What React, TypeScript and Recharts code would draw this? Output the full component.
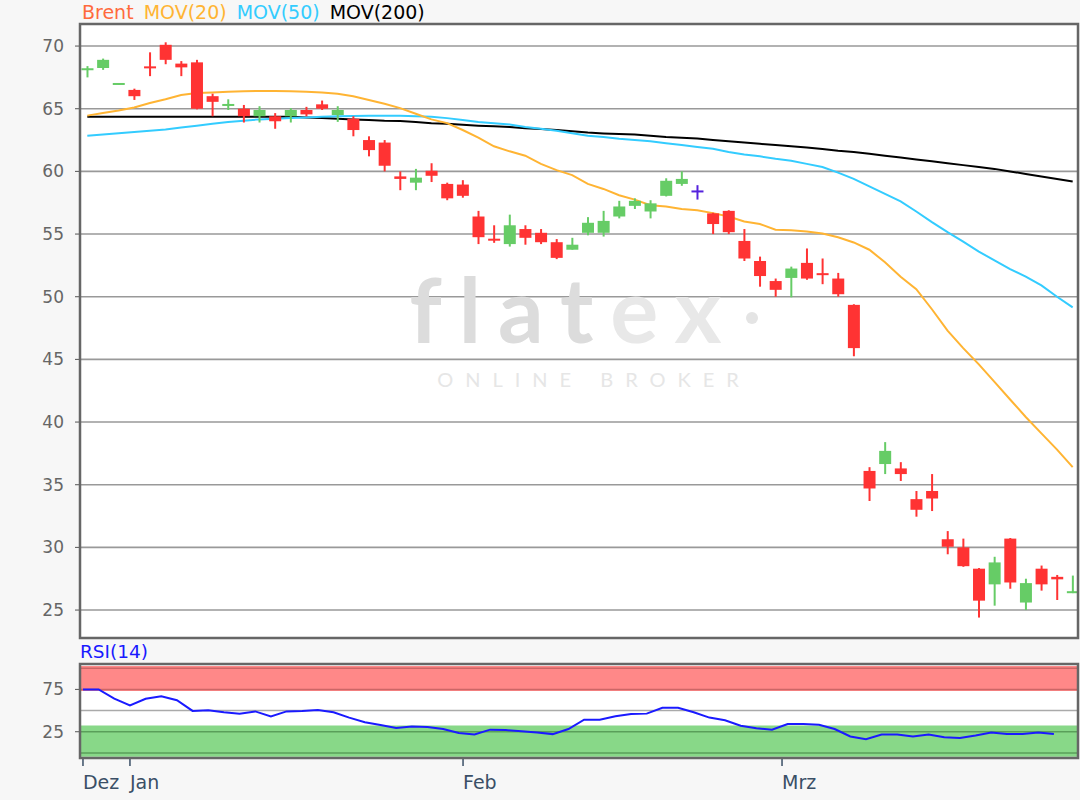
import React from "react";
import {
  ComposedChart,
  Bar,
  Line,
  XAxis,
  YAxis,
  CartesianGrid,
  ReferenceArea,
  ReferenceLine,
  Legend,
  Customized,
} from "recharts";

// daily Brent candles, Dez 2019 - Mrz 2020
const opens = [68.1, 68.25, 66.95, 66.5, 68.35, 70.1, 68.6, 68.7, 66.0, 65.25, 65.0, 64.4, 64.4, 64.4, 64.9, 65.35, 64.5, 64.2, 62.5, 62.3, 59.6, 59.1, 60.05, 59.0, 58.95, 56.4, 54.6, 54.2, 55.4, 55.1, 54.35, 53.75, 55.1, 55.1, 56.4, 57.25, 56.8, 58.05, 59.0, 58.4, 56.65, 56.85, 54.45, 52.85, 51.25, 51.5, 52.7, 51.85, 51.45, 49.35, 36.1, 36.65, 36.3, 33.85, 34.5, 30.65, 30.0, 28.3, 27.05, 30.7, 25.6, 28.3, 27.65, 26.35];
const highs = [68.4, 69.0, 67.05, 66.6, 69.5, 70.3, 68.8, 68.9, 66.2, 65.75, 65.3, 65.2, 64.65, 65.05, 65.15, 65.65, 65.2, 64.4, 62.8, 62.5, 60.0, 60.2, 60.65, 59.1, 59.3, 56.85, 55.7, 56.55, 55.7, 55.4, 54.6, 54.7, 56.35, 56.85, 57.65, 57.85, 57.7, 59.45, 60.0, 58.9, 56.7, 56.9, 55.4, 53.2, 51.45, 52.4, 53.85, 53.05, 51.9, 49.4, 36.4, 38.4, 36.8, 34.5, 35.85, 31.3, 30.7, 28.35, 29.25, 30.75, 27.5, 28.55, 27.8, 27.75];
const lows = [67.5, 68.1, 66.9, 65.7, 67.6, 68.55, 67.6, 64.95, 64.4, 64.9, 63.9, 63.9, 63.4, 63.9, 64.4, 64.9, 63.95, 62.8, 61.2, 60.0, 58.5, 58.5, 59.15, 57.7, 57.9, 54.2, 54.3, 54.0, 54.15, 54.2, 53.0, 53.75, 54.9, 54.8, 56.25, 57.0, 56.25, 58.0, 58.85, 57.75, 55.0, 55.0, 52.85, 50.8, 50.0, 49.95, 51.35, 51.0, 50.0, 45.25, 33.7, 35.85, 35.3, 32.45, 32.9, 29.45, 28.45, 24.4, 25.35, 26.7, 25.0, 26.55, 25.8, 26.35];
const closes = [68.2, 68.9, 67.0, 66.0, 68.25, 68.9, 68.3, 65.0, 65.55, 65.35, 64.4, 64.9, 64.0, 64.9, 64.55, 65.0, 64.9, 63.3, 61.7, 60.45, 59.4, 59.5, 59.65, 57.85, 58.05, 54.75, 54.5, 55.7, 54.7, 54.35, 53.1, 54.15, 55.9, 56.05, 57.2, 57.65, 57.45, 59.25, 59.4, 58.4, 55.8, 55.15, 53.05, 51.65, 50.55, 52.25, 51.45, 51.75, 50.2, 45.9, 34.7, 37.7, 35.85, 33.0, 33.9, 30.05, 28.5, 25.75, 28.8, 27.2, 27.15, 27.05, 27.45, 26.5];

const mov20 = [64.45, 64.65, 64.85, 65.1, 65.45, 65.75, 66.1, 66.25, 66.3, 66.35, 66.4, 66.42, 66.42, 66.4, 66.35, 66.3, 66.2, 66.0, 65.7, 65.4, 65.05, 64.6, 64.15, 63.85, 63.3, 62.7, 62.0, 61.6, 61.25, 60.6, 60.1, 59.7, 59.0, 58.6, 58.1, 57.75, 57.3, 57.2, 57.0, 56.9, 56.67, 56.4, 56.0, 55.8, 55.35, 55.3, 55.2, 55.05, 54.75, 54.33, 53.75, 52.75, 51.6, 50.6, 49.0, 47.3, 45.9, 44.6, 43.2, 41.8, 40.4, 39.1, 37.8, 36.4];
const mov50 = [62.85, 62.95, 63.05, 63.15, 63.25, 63.35, 63.5, 63.65, 63.8, 63.95, 64.05, 64.15, 64.2, 64.25, 64.3, 64.35, 64.4, 64.42, 64.44, 64.44, 64.44, 64.4, 64.35, 64.25, 64.1, 63.95, 63.85, 63.75, 63.55, 63.4, 63.25, 63.05, 62.85, 62.75, 62.6, 62.5, 62.4, 62.25, 62.1, 61.95, 61.8, 61.55, 61.35, 61.2, 61.0, 60.85, 60.6, 60.35, 59.9, 59.4, 58.8, 58.2, 57.6, 56.8, 55.95, 55.15, 54.4, 53.6, 52.9, 52.2, 51.6, 50.9, 50.0, 49.15];
const mov200 = [64.35, 64.35, 64.35, 64.35, 64.35, 64.35, 64.35, 64.35, 64.35, 64.35, 64.35, 64.35, 64.35, 64.35, 64.3, 64.25, 64.2, 64.15, 64.1, 64.05, 64.03, 63.95, 63.85, 63.8, 63.72, 63.65, 63.6, 63.55, 63.45, 63.38, 63.3, 63.2, 63.1, 63.03, 62.98, 62.95, 62.85, 62.75, 62.68, 62.62, 62.5, 62.4, 62.3, 62.2, 62.1, 62.0, 61.9, 61.78, 61.65, 61.55, 61.4, 61.25, 61.1, 60.95, 60.8, 60.65, 60.5, 60.35, 60.2, 60.0, 59.8, 59.6, 59.4, 59.2];

const rsi = [75, 75, 64, 56, 64, 67, 62.3, 49.6, 50.4, 48, 46.4, 49, 43, 49, 49.4, 50.8, 48, 41.7, 36.2, 33, 29.4, 31.3, 30.6, 28.3, 23.5, 21.8, 27.5, 27, 25.5, 24.2, 22.2, 28.2, 39.3, 39.3, 43.2, 46, 46.4, 53.2, 53.2, 48, 41.7, 38.5, 32.1, 29, 27.4, 34.2, 34.2, 33.3, 28.2, 19.4, 16.3, 21.8, 21.8, 19.4, 21.8, 18.6, 17.5, 20.6, 24.2, 22.2, 22.2, 24.2, 22.2];

const priceTicks = [25, 30, 35, 40, 45, 50, 55, 60, 65, 70];
const rsiTicks = [25, 75];
const monthLabels = ["Dez", "Jan", "Feb", "Mrz"];
const monthPositions = [0, 3, 24.27, 44.64];

const legendItems = [
  { label: "Brent", color: "#ff6a3d" },
  { label: "MOV(20)", color: "#ffb433" },
  { label: "MOV(50)", color: "#33ccff" },
  { label: "MOV(200)", color: "#000000" },
];

const FONT = "DejaVu Sans, Verdana, sans-serif";
const UP = "#66cc66";
const DOWN = "#ff3333";
const FLAT = "#5522dd";

const X_DOMAIN: [number, number] = [-0.467, 63.34];
const Y_DOMAIN: [number, number] = [22.77, 71.76];
const RSI_X_DOMAIN: [number, number] = [-0.19, 63.54];
const RSI_Y_DOMAIN: [number, number] = [-6, 105];

const candleData = opens.map((o, i) => ({
  i,
  open: o,
  high: highs[i],
  low: lows[i],
  close: closes[i],
  range: [lows[i], highs[i]],
  mov20: mov20[i],
  mov50: mov50[i],
  mov200: mov200[i],
}));

const rsiData = rsi.map((v, k) => ({ k, rsi: v }));

function Candle(props: any) {
  const { x, y, width, height, payload } = props;
  if (x == null || y == null) return null;
  const { open, close, high, low } = payload;
  const top = Math.min(y, y + height);
  const bottom = Math.max(y, y + height);
  const ppu = (bottom - top) / (high - low);
  const cx = x + width / 2;
  const bTop = top + (high - Math.max(open, close)) * ppu;
  const bBot = top + (high - Math.min(open, close)) * ppu;
  const h = Math.max(bBot - bTop, 2);
  const mid = (bTop + bBot) / 2;
  const color = close > open ? UP : close < open ? DOWN : FLAT;
  return (
    <g>
      <line x1={cx} x2={cx} y1={top} y2={bottom} stroke={color} strokeWidth={2} />
      <rect x={x} y={mid - h / 2} width={width} height={h} fill={color} />
    </g>
  );
}

// background logo
function Watermark() {
  return (
    <g fontFamily="Lato, sans-serif" textAnchor="middle">
      <text x={574} y={343} fontSize={90} fontWeight={700} fill="#dcdcdc" letterSpacing={17}>
        flat<tspan fill="#e8e8e8">ex</tspan>
      </text>
      <text x={594} y={387} fontSize={20} fill="#e6e6e6" letterSpacing={12}>
        ONLINE BROKER
      </text>
      <circle cx={752} cy={318} r={6} fill="#e4e4e4" />
    </g>
  );
}

function HeaderLegend() {
  return (
    <div style={{ fontFamily: FONT, fontSize: 19, lineHeight: "24px", whiteSpace: "nowrap", textAlign: "left" }}>
      {legendItems.map((it) => (
        <span key={it.label} style={{ color: it.color, marginRight: 10 }}>
          {it.label}
        </span>
      ))}
    </div>
  );
}

function RsiLegend() {
  return (
    <div style={{ fontFamily: FONT, fontSize: 18.5, lineHeight: "24px", color: "#1a1aff", textAlign: "left" }}>
      RSI(14)
    </div>
  );
}

function MonthTick(props: any) {
  const { x, y, payload } = props;
  const idx = monthPositions.indexOf(payload.value);
  return (
    <text x={x} y={y + 21} textAnchor="start" fill="#3a4f66" fontSize={19} fontFamily={FONT}>
      {monthLabels[idx]}
    </text>
  );
}

const yTick = { fill: "#666", fontSize: 17, fontFamily: FONT };

export default function App() {
  return (
    <div style={{ position: "absolute", left: 0, top: 0, width: 1080, height: 800, background: "#f7f7f7" }}>
      <div style={{ position: "absolute", left: 0, top: 0 }}>
        <ComposedChart width={1080} height={645} data={candleData} margin={{ top: 24, right: 2, bottom: 7, left: 0 }}>
          <CartesianGrid horizontal vertical={false} stroke="#999999" strokeWidth={1.6} fill="#ffffff" />
          <Customized component={Watermark} />
          <XAxis type="number" dataKey="i" domain={X_DOMAIN} allowDataOverflow hide />
          <YAxis
            type="number"
            domain={Y_DOMAIN}
            ticks={priceTicks}
            allowDataOverflow
            width={80}
            axisLine={false}
            tickLine={{ stroke: "#555" }}
            tickSize={5}
            tickMargin={11}
            tick={yTick}
          />
          <Legend
            content={HeaderLegend}
            layout="vertical"
            align="center"
            verticalAlign="middle"
            wrapperStyle={{ top: 0, left: 82, width: 600 }}
          />
          <Line dataKey="mov200" stroke="#000000" strokeWidth={2} dot={false} isAnimationActive={false} />
          <Line dataKey="mov50" stroke="#33ccff" strokeWidth={2} dot={false} isAnimationActive={false} />
          <Line dataKey="mov20" stroke="#ffb433" strokeWidth={2} dot={false} isAnimationActive={false} />
          <Bar dataKey="range" barSize={12} shape={Candle} isAnimationActive={false} zIndex={450} />
          <ReferenceArea
            x1={X_DOMAIN[0]}
            x2={X_DOMAIN[1]}
            y1={Y_DOMAIN[0]}
            y2={Y_DOMAIN[1]}
            fill="none"
            stroke="#666"
            strokeWidth={2.5}
            zIndex={1500}
          />
        </ComposedChart>
      </div>
      <div style={{ position: "absolute", left: 0, top: 640 }}>
        <ComposedChart width={1080} height={160} data={rsiData} margin={{ top: 24, right: 2, bottom: 0, left: 0 }}>
          <ReferenceArea x1={RSI_X_DOMAIN[0]} x2={RSI_X_DOMAIN[1]} y1={RSI_Y_DOMAIN[0]} y2={RSI_Y_DOMAIN[1]} fill="#ffffff" fillOpacity={1} />
          <ReferenceArea x1={RSI_X_DOMAIN[0]} x2={RSI_X_DOMAIN[1]} y1={73} y2={102.5} fill="#ff8888" fillOpacity={1} />
          <ReferenceArea x1={RSI_X_DOMAIN[0]} x2={RSI_X_DOMAIN[1]} y1={-4.5} y2={32.3} fill="#88d888" fillOpacity={1} />
          <ReferenceLine y={100} stroke="#cc6666" strokeWidth={1.5} />
          <ReferenceLine y={75} stroke="#cc6666" strokeWidth={1.5} />
          <ReferenceLine y={50} stroke="#aaaaaa" strokeWidth={1.5} />
          <ReferenceLine y={25} stroke="#5a9f5a" strokeWidth={1.5} />
          <ReferenceLine y={0} stroke="#5a9f5a" strokeWidth={1.5} />
          <XAxis
            type="number"
            dataKey="k"
            domain={RSI_X_DOMAIN}
            ticks={monthPositions}
            allowDataOverflow
            height={42}
            axisLine={false}
            tickLine={{ stroke: "#3a4f66", strokeWidth: 1.5 }}
            tickSize={8}
            tick={MonthTick}
            interval={0}
          />
          <YAxis
            type="number"
            domain={RSI_Y_DOMAIN}
            ticks={rsiTicks}
            allowDataOverflow
            width={80}
            axisLine={false}
            tickLine={{ stroke: "#555" }}
            tickSize={5}
            tickMargin={11}
            tick={yTick}
          />
          <Legend
            content={RsiLegend}
            layout="vertical"
            align="center"
            verticalAlign="middle"
            wrapperStyle={{ top: 0, left: 80, width: 200 }}
          />
          <Line dataKey="rsi" stroke="#1a1aff" strokeWidth={2} dot={false} isAnimationActive={false} />
          <ReferenceArea
            x1={RSI_X_DOMAIN[0]}
            x2={RSI_X_DOMAIN[1]}
            y1={RSI_Y_DOMAIN[0]}
            y2={RSI_Y_DOMAIN[1]}
            fill="none"
            stroke="#666"
            strokeWidth={2.5}
            zIndex={1500}
          />
        </ComposedChart>
      </div>
    </div>
  );
}
